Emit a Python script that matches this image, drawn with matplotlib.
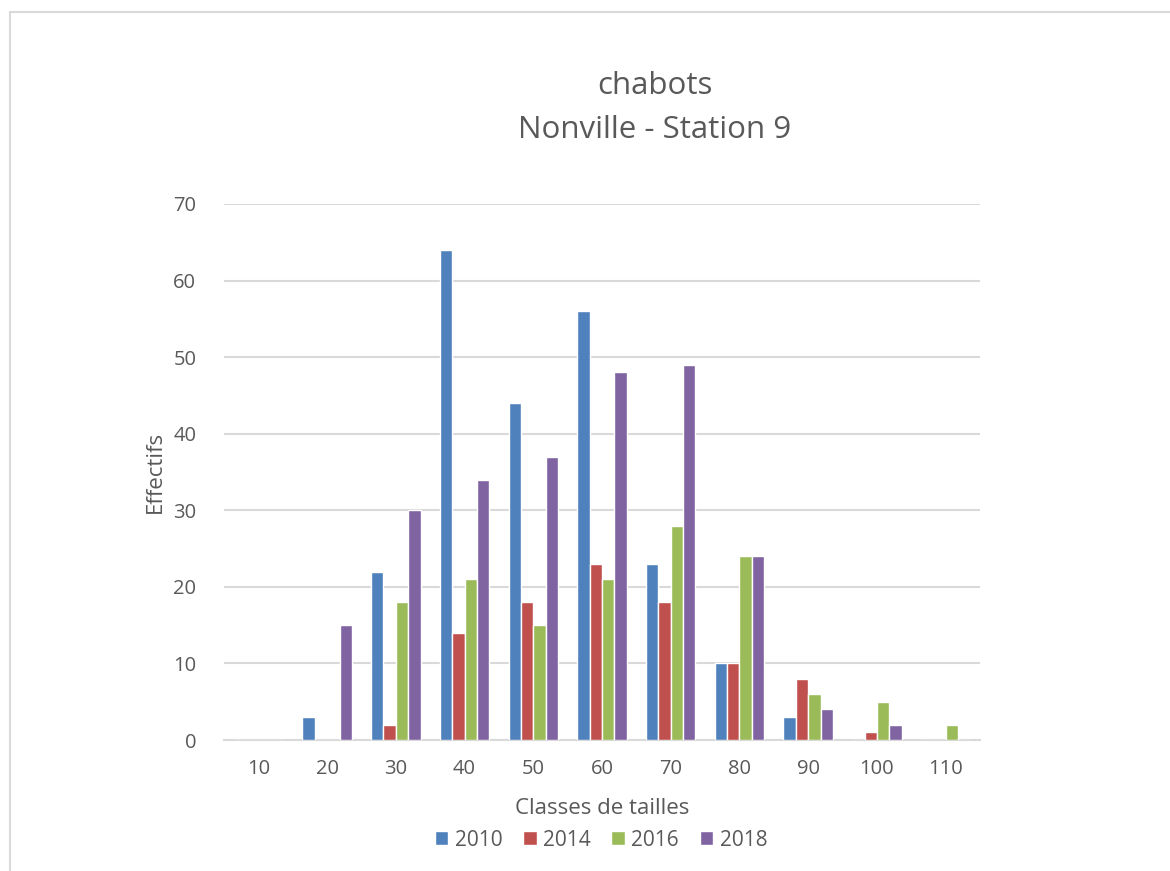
import matplotlib.pyplot as plt
import numpy as np

plt.rcParams['font.family'] = ['Open Sans', 'DejaVu Sans']

# size classes (mm) and counts per sampling year
classes = ['10', '20', '30', '40', '50', '60', '70', '80', '90', '100', '110']
years = ['2010', '2014', '2016', '2018']
n2010 = [0, 3, 22, 64, 44, 56, 23, 10, 3, 0, 0]
n2014 = [0, 0, 2, 14, 18, 23, 18, 10, 8, 1, 0]
n2016 = [0, 0, 18, 21, 15, 21, 28, 24, 6, 5, 2]
n2018 = [0, 15, 30, 34, 37, 48, 49, 24, 4, 2, 0]
series = [n2010, n2014, n2016, n2018]
colors = ['#4F81BD', '#C0504D', '#9BBB59', '#8064A2']
text_col = '#595959'

W, H = 1170, 871
fig = plt.figure(figsize=(W / 100, H / 100), dpi=100)
ax = fig.add_axes([0.1915, 0.1504, 0.6461, 0.6154])

x = np.arange(len(classes))
w = 0.18
for k, (vals, col, yr) in enumerate(zip(series, colors, years)):
    ax.bar(x + (k - 1.5) * w, vals, width=w, color=col, edgecolor='white',
           linewidth=1.0, label=yr, zorder=3)

ax.set_xlim(-0.5, len(classes) - 0.5)
ax.set_ylim(0, 70)
ax.set_yticks(np.arange(0, 71, 10))
ax.set_xticks(x)
ax.set_xticklabels(classes)
ax.yaxis.grid(True, color='#D9D9D9', linewidth=1.5, zorder=0)
ax.tick_params(axis='both', length=0, labelsize=14.5, labelcolor=text_col)
ax.tick_params(axis='y', pad=20)
ax.tick_params(axis='x', pad=14)
for s in ['top', 'right', 'left']:
    ax.spines[s].set_visible(False)
ax.spines['bottom'].set_color('#D9D9D9')
ax.spines['bottom'].set_linewidth(1.5)

ax.set_ylabel('Effectifs', fontsize=16, color=text_col)
ax.yaxis.label.set_va('center')
ax.yaxis.set_label_coords((155 - 224) / 756, 0.5)
ax.set_xlabel('Classes de tailles', fontsize=16, color=text_col)
ax.xaxis.label.set_va('center')
ax.xaxis.set_label_coords(0.5, (740 - 808) / 536)

fig.text(655 / W, 1 - 86 / H, 'chabots', ha='center', va='center', fontsize=22.5, color=text_col)
fig.text(655 / W, 1 - 130 / H, 'Nonville - Station 9', ha='center', va='center',
         fontsize=22.5, color=text_col)

fig.legend(*ax.get_legend_handles_labels(), loc='center', bbox_to_anchor=(601 / W, 1 - 840 / H),
           ncol=4, frameon=False, fontsize=15, handlelength=0.65, handleheight=0.65,
           handletextpad=0.3, columnspacing=1.0, labelcolor=text_col)

# light frame around the chart area
frame = plt.Rectangle((10 / W, -0.05), 1.2, 1 - 12 / H + 0.05, transform=fig.transFigure,
                      fill=False, edgecolor='#D9D9D9', linewidth=1.5)
fig.patches.append(frame)

fig.savefig('out.png', dpi=100, facecolor='white')
